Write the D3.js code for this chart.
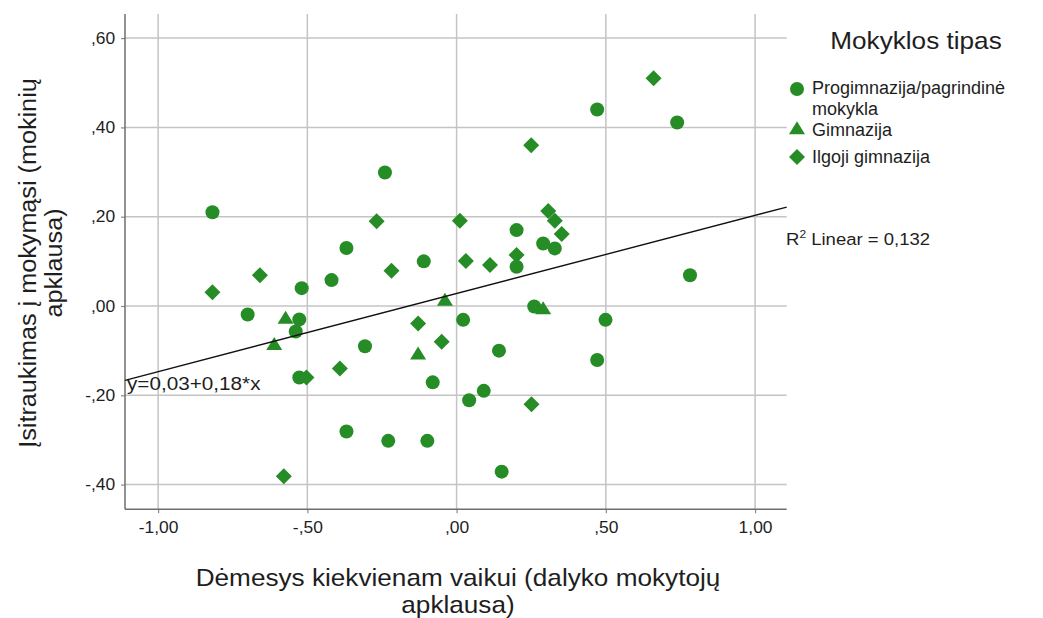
<!DOCTYPE html>
<html>
<head>
<meta charset="utf-8">
<script src="https://cdn.jsdelivr.net/npm/d3@7"></script>
<style>
  html, body { margin: 0; padding: 0; background: #fff; }
  svg { display: block; font-family: "Liberation Sans", Arial, sans-serif; }
</style>
</head>
<body>
<svg id="chart" width="1043" height="618"></svg>
<script>
// ---------------- data ----------------
const groups = ["Progimnazija/pagrindinė mokykla", "Gimnazija", "Ilgoji gimnazija"];

const progX = [-0.818, -0.240, -0.369, -0.110, 0.471, 0.739, 0.201, 0.290, 0.329, 0.201,
               0.782, 0.260, 0.022, 0.499, 0.142, 0.471, -0.080, 0.091, 0.042, 0.151,
               -0.519, -0.419, -0.700, -0.527, -0.539, -0.307, -0.527, -0.369, -0.229, -0.098];
const progY = [0.210, 0.299, 0.130, 0.100, 0.440, 0.411, 0.170, 0.140, 0.129, 0.088,
               0.069, -0.001, -0.031, -0.031, -0.100, -0.121, -0.171, -0.190, -0.211, -0.371,
               0.040, 0.058, -0.019, -0.030, -0.057, -0.090, -0.160, -0.281, -0.302, -0.302];

const gimX = [-0.039, 0.290, -0.573, -0.611, -0.129];
const gimY = [0.012, -0.007, -0.028, -0.087, -0.108];

const ilgX = [-0.268, 0.011, 0.660, 0.250, 0.307, 0.329, 0.352, 0.031, 0.112, 0.201,
              -0.050, 0.251, -0.818, -0.659, -0.218, -0.129, -0.503, -0.391, -0.579];
const ilgY = [0.190, 0.191, 0.510, 0.360, 0.213, 0.191, 0.161, 0.101, 0.092, 0.114,
              -0.080, -0.220, 0.031, 0.069, 0.079, -0.039, -0.160, -0.140, -0.381];

const fitIntercept = 0.028;
const fitSlope = 0.175;
const fitLabel = "y=0,03+0,18*x";
const r2Value = "0,132";

const xTicks = [-1, -0.5, 0, 0.5, 1];
const xTickLabels = ["-1,00", "-,50", ",00", ",50", "1,00"];
const yTicks = [-0.4, -0.2, 0, 0.2, 0.4, 0.6];
const yTickLabels = ["-,40", "-,20", ",00", ",20", ",40", ",60"];

const xTitle = ["Dėmesys kiekvienam vaikui (dalyko mokytojų", "apklausa)"];
const yTitle = ["Įsitraukimas į mokymąsi (mokinių", "apklausa)"];
const legendTitle = "Mokyklos tipas";
const legendLabels = [["Progimnazija/pagrindinė", "mokykla"], ["Gimnazija"], ["Ilgoji gimnazija"]];

// ---------------- layout ----------------
const green = "#268c26";
const ink = "#1e1e1e";
const stretch = 1.09;
const svg = d3.select("#chart");
const pLeft = 125, pRight = 786.7, pTop = 14, pBottom = 509.3;

const x = d3.scaleLinear().domain([-1.111, 1.106]).range([pLeft, pRight]);
const y = d3.scaleLinear().domain([-0.4553, 0.654]).range([pBottom, pTop]);

// gridlines
const grid = svg.append("g");
grid.selectAll("line.gx").data(xTicks).join("line").attr("class", "gx")
  .attr("x1", d => x(d)).attr("x2", d => x(d)).attr("y1", pTop).attr("y2", pBottom)
  .attr("stroke", "#c4c4c4").attr("stroke-width", 1.5);
grid.selectAll("line.gy").data(yTicks).join("line").attr("class", "gy")
  .attr("y1", d => y(d)).attr("y2", d => y(d)).attr("x1", pLeft).attr("x2", pRight)
  .attr("stroke", "#c4c4c4").attr("stroke-width", 1.5);

// axes
const xAxis = d3.axisBottom(x).tickValues(xTicks)
  .tickFormat((d, i) => xTickLabels[i]).tickSize(4).tickPadding(8);
const yAxis = d3.axisLeft(y).tickValues(yTicks)
  .tickFormat((d, i) => yTickLabels[i]).tickSize(4).tickPadding(5);

const gx = svg.append("g").attr("transform", `translate(0,${pBottom})`).call(xAxis);
const gy = svg.append("g").attr("transform", `translate(${pLeft},0)`).call(yAxis);
[gx, gy].forEach(g => {
  g.select(".domain").remove();
  g.selectAll(".tick line").attr("stroke", "#8a8a8a").attr("stroke-width", 1.2);
  g.selectAll(".tick text").attr("font-size", 16).attr("fill", ink)
    .attr("font-family", "'Liberation Sans', Arial, sans-serif")
    .attr("transform", `scale(${stretch},1)`);
});

svg.append("line").attr("x1", pLeft).attr("x2", pLeft).attr("y1", pTop).attr("y2", pBottom)
  .attr("stroke", "#6e6e6e").attr("stroke-width", 1.5);
svg.append("line").attr("x1", pLeft).attr("x2", pRight).attr("y1", pBottom).attr("y2", pBottom)
  .attr("stroke", "#6e6e6e").attr("stroke-width", 1.5);

// symbols
const triangleType = {
  draw(ctx, size) {
    const w = 8, h = 13;
    ctx.moveTo(0, -h * 0.6);
    ctx.lineTo(w, h * 0.4);
    ctx.lineTo(-w, h * 0.4);
    ctx.closePath();
  }
};
const diamondType = {
  draw(ctx, size) {
    const r = 8;
    ctx.moveTo(0, -r); ctx.lineTo(r, 0); ctx.lineTo(0, r); ctx.lineTo(-r, 0); ctx.closePath();
  }
};
const circlePath = d3.symbol().type(d3.symbolCircle).size(Math.PI * 49)();
const trianglePath = d3.symbol().type(triangleType)();
const diamondPath = d3.symbol().type(diamondType)();
const shapes = [circlePath, trianglePath, diamondPath];

const seriesX = [progX, gimX, ilgX];
const seriesY = [progY, gimY, ilgY];

const pts = svg.append("g");
seriesX.forEach((xs, gi) => {
  pts.append("g").selectAll("path").data(xs.map((v, i) => [v, seriesY[gi][i]])).join("path")
    .attr("d", shapes[gi])
    .attr("transform", d => `translate(${x(d[0])},${y(d[1])})`)
    .attr("fill", green);
});

const xd = x.domain();
svg.append("line")
  .attr("x1", x(xd[0])).attr("y1", y(fitIntercept + fitSlope * xd[0]))
  .attr("x2", x(xd[1])).attr("y2", y(fitIntercept + fitSlope * xd[1]))
  .attr("stroke", "#111").attr("stroke-width", 1.4);

// helper: text anchored at (tx,ty), stretched horizontally
function label(tx, ty, size, anchor) {
  return svg.append("g").attr("transform", `translate(${tx},${ty}) scale(${stretch},1)`)
    .append("text").attr("font-size", size).attr("fill", ink).attr("text-anchor", anchor || "start");
}

label(127, 390, 19).text(fitLabel);

const r2 = label(786, 245, 17);
r2.append("tspan").text("R");
r2.append("tspan").attr("font-size", 11).attr("dy", -7).text("2");
r2.append("tspan").attr("dy", 7).text(" Linear = " + r2Value);

// legend
label(916, 49, 24, "middle").text(legendTitle);
const legY = [89, 129, 157];
const legBase = [94, 136, 163];
legendLabels.forEach((lines, i) => {
  svg.append("path").attr("d", shapes[i]).attr("transform", `translate(797,${legY[i]})`).attr("fill", green);
  const t = svg.append("text").attr("x", 812).attr("y", legBase[i]).attr("font-size", 18).attr("fill", ink);
  lines.forEach((l, j) => t.append("tspan").attr("x", 812).attr("dy", j === 0 ? 0 : 20.5).text(l));
});

// axis titles
const xt = label(458, 586, 24, "middle");
xTitle.forEach((l, j) => xt.append("tspan").attr("x", 0).attr("y", j * 27).text(l));

const yt = svg.append("g").attr("transform", `translate(0,263) rotate(-90) scale(1.05,1)`);
const ytt = yt.append("text").attr("text-anchor", "middle").attr("font-size", 24).attr("fill", ink);
yTitle.forEach((l, j) => ytt.append("tspan").attr("x", 0).attr("y", 36 + j * 26).text(l));
</script>
</body>
</html>
